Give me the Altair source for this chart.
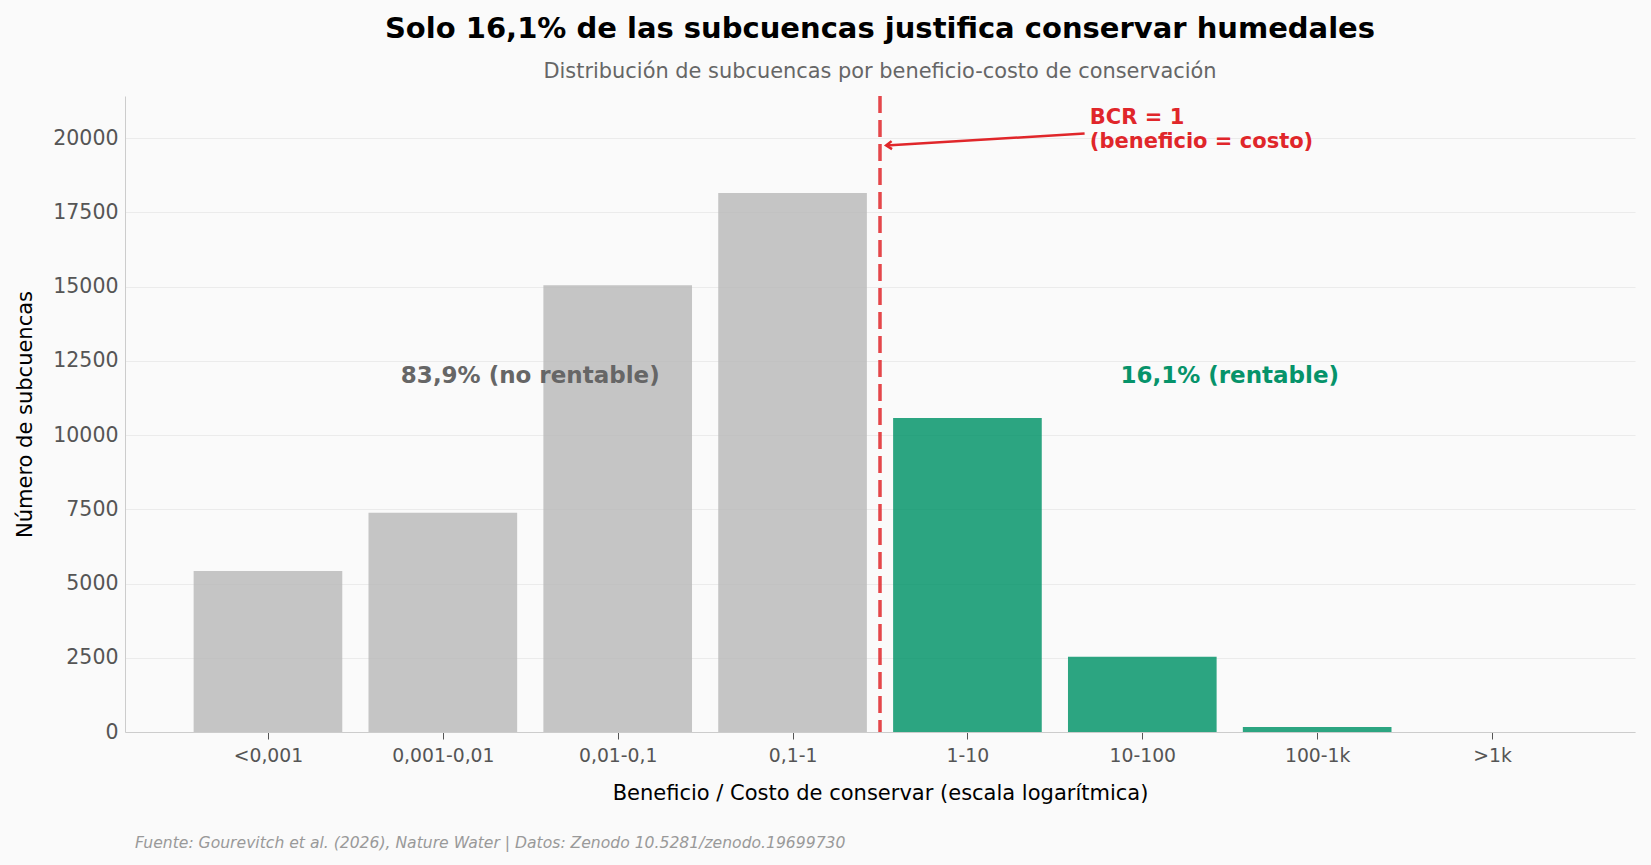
import altair as alt
import pandas as pd

# ---- data ----
categories = ["<0,001", "0,001-0,01", "0,01-0,1", "0,1-1", "1-10", "10-100", "100-1k", ">1k"]
counts = [5420, 7380, 15040, 18150, 10570, 2535, 170, 0]
groups = ["no", "no", "no", "no", "si", "si", "si", "si"]

threshold_pos = [3.5]                      # BCR = 1 between "0,1-1" and "1-10"
label_texts = ["83,9% (no rentable)", "16,1% (rentable)"]
label_x = [1.5, 5.5]
label_y = [12000, 12000]
label_colors = ["#666666", "#06936a"]

bcr_text = ["BCR = 1", "(beneficio = costo)"]
bcr_text_xy = [4.70, 20680]
arrow_from = [4.67, 20150]
arrow_to = [3.535, 19750]

title = "Solo 16,1% de las subcuencas justifica conservar humedales"
subtitle = "Distribución de subcuencas por beneficio-costo de conservación"
footer = "Fuente: Gourevitch et al. (2026), Nature Water | Datos: Zenodo 10.5281/zenodo.19699730"

BAR_W = 0.85
GRAY, GREEN, RED = "#bbbbbb", "#07956b", "#e0262a"
FONT = "DejaVu Sans"

df = pd.DataFrame({"cat": categories, "n": counts, "g": groups})
df["i"] = range(len(categories))
df["x0"] = df["i"] - BAR_W / 2
df["x1"] = df["i"] + BAR_W / 2

xdom = [-0.8175, len(categories) - 1 + 0.8175]
label_js = "[" + ",".join("'" + c + "'" for c in categories) + "]"

xscale = alt.Scale(domain=xdom, nice=False, zero=False, padding=0)
yscale = alt.Scale(domain=[0, 21415], nice=False, padding=0)
color_scale = alt.Scale(domain=["no", "si"], range=[GRAY, GREEN])

bars = alt.Chart(df).mark_bar(opacity=0.85, orient="vertical").encode(
    x=alt.X("x0:Q", scale=xscale,
            axis=alt.Axis(values=list(range(len(categories))),
                          labelExpr=label_js + "[datum.value]",
                          title="Beneficio / Costo de conservar (escala logarítmica)",
                          grid=False, domainColor="#cccccc", tickColor="#555555",
                          tickSize=7, labelFontSize=18.8, labelColor="#555555",
                          labelPadding=7, titleFontSize=21, titleFontWeight="normal",
                          titleColor="#000000", titlePadding=18)),
    x2="x1:Q",
    y=alt.Y("n:Q", scale=yscale,
            axis=alt.Axis(values=list(range(0, 20001, 2500)), format="d",
                          title="Número de subcuencas", grid=True, gridColor="#ebebeb",
                          ticks=False, domainColor="#cccccc", labelFontSize=20.5,
                          labelColor="#555555", labelPadding=7, titleFontSize=21,
                          titleFontWeight="normal", titleColor="#000000",
                          titlePadding=17)),
    y2=alt.datum(0),
    color=alt.Color("g:N", scale=color_scale, legend=None),
)

rule = alt.Chart(pd.DataFrame({"x": threshold_pos})).mark_rule(
    color=RED, strokeWidth=3.5, strokeDash=[17, 7], opacity=0.85
).encode(x=alt.X("x:Q", scale=xscale))

labels = alt.Chart(pd.DataFrame({"t": label_texts, "x": label_x, "y": label_y, "c": label_colors})).mark_text(
    fontSize=23, fontWeight="bold", font=FONT, baseline="middle", align="center"
).encode(
    x=alt.X("x:Q", scale=xscale), y=alt.Y("y:Q", scale=yscale), text="t:N",
    color=alt.Color("c:N", scale=None),
)

bcr = alt.Chart(pd.DataFrame({"t": [bcr_text], "x": [bcr_text_xy[0]], "y": [bcr_text_xy[1]]})).mark_text(
    fontSize=21, fontWeight="bold", font=FONT, color=RED, align="left",
    baseline="middle", lineHeight=24
).encode(x=alt.X("x:Q", scale=xscale), y=alt.Y("y:Q", scale=yscale), text="t")

arrow_df = pd.DataFrame({"x": [arrow_from[0], arrow_to[0]], "y": [arrow_from[1], arrow_to[1]], "o": [0, 1]})
arrow_line = alt.Chart(arrow_df).mark_line(color=RED, strokeWidth=2.5).encode(
    x=alt.X("x:Q", scale=xscale), y=alt.Y("y:Q", scale=yscale), order="o:Q")
arrow_head = alt.Chart(pd.DataFrame({"x": [arrow_to[0]], "y": [arrow_to[1]]})).mark_point(
    shape="M1,-0.7L0,0L1,0.7", size=130, filled=False, color=RED, strokeWidth=2.5,
    angle=356.7, opacity=1
).encode(x=alt.X("x:Q", scale=xscale), y=alt.Y("y:Q", scale=yscale))

foot = alt.Chart(pd.DataFrame({"t": [footer]})).mark_text(
    fontSize=15.6, fontStyle="italic", font=FONT, color="#999999", align="left", baseline="middle"
).encode(x=alt.value(10), y=alt.value(747), text="t:N")

chart = alt.layer(bars, rule, labels, bcr, arrow_line, arrow_head, foot).properties(
    width=1510, height=636,
    title=alt.TitleParams(text=title, subtitle=subtitle, anchor="middle",
                          fontSize=29, fontWeight="bold", color="#000000", font=FONT,
                          subtitleFontSize=20.9, subtitleColor="#666666", subtitleFont=FONT,
                          subtitlePadding=17, offset=12),
    autosize=alt.AutoSizeParams(type="none"),
    padding={"left": 125, "top": 96, "right": 16, "bottom": 133},
    background="#fafafa",
).configure_view(stroke=None).configure_axis(labelFont=FONT, titleFont=FONT)

chart.save("out.html", embed_options={"renderer": "svg", "actions": False})
